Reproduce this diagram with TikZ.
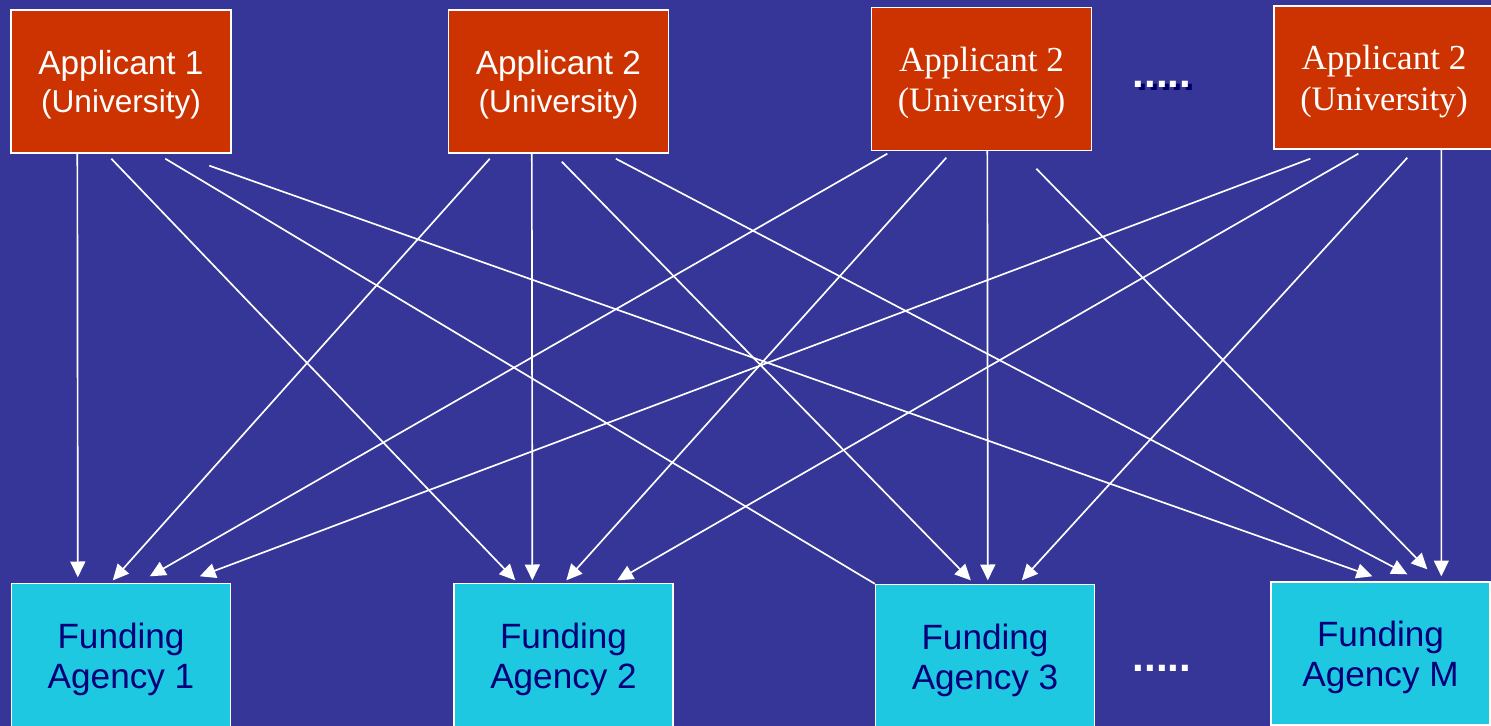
\documentclass[tikz,border=0pt]{standalone}
\usepackage{fontspec}
\setmainfont{Liberation Sans}
\newfontfamily\timesf{Liberation Serif}
\usetikzlibrary{arrows.meta,calc}
\definecolor{bgblue}{RGB}{54,54,152}
\definecolor{boxred}{RGB}{204,51,0}
\definecolor{boxcyan}{RGB}{30,200,224}
\definecolor{navytext}{RGB}{0,0,120}
\definecolor{shadownavy}{RGB}{0,0,100}
\tikzset{
  appbox/.style={draw=white, line width=0.8pt, fill=boxred, minimum width=4.4cm, minimum height=2.86cm, inner sep=0pt},
  fundbox/.style={draw=white, line width=0.8pt, fill=boxcyan, minimum width=4.38cm, minimum height=2.86cm, inner sep=0pt},
  toptxt/.style={text=white, align=center, inner sep=0pt, font=\fontsize{19}{21.5}\selectfont},
  toptxtserif/.style={text=white, align=center, inner sep=0pt, font=\timesf\fontsize{20}{23.2}\selectfont},
  bottxt/.style={text=navytext, align=center, inner sep=0pt, font=\fontsize{20}{22.7}\selectfont},
  link/.style={draw=white, line width=0.95pt, -{Triangle[length=9pt,width=8.5pt]}},
  plainlink/.style={draw=white, line width=0.95pt},
  dots/.style={inner sep=0pt, anchor=base, font=\bfseries\fontsize{24}{24}\selectfont}
}
\begin{document}
\begin{tikzpicture}[x=0.02cm,y=-0.02cm]
\useasboundingbox (0,0) rectangle (1491,726);
\fill[bgblue] (0,0) rectangle (1491,726);
% boxes
\node[appbox] (a1) at (121,81.5) {};
\node[appbox] (a2) at (558.5,81.5) {};
\node[appbox] (a3) at (981.5,79) {};
\node[appbox] (a4) at (1384,77.5) {};
\node[fundbox] (f1) at (121,655) {};
\node[fundbox] (f2) at (563.5,655) {};
\node[fundbox] (f3) at (985,656) {};
\node[fundbox] (fm) at (1380.5,653.5) {};
% texts
\node[toptxt] (a1t) at ($(a1.center)+(0,3)$) {Applicant 1\\\fontsize{18}{21.5}\selectfont (University)};
\node[toptxt] (a2t) at ($(a2.center)+(0,3)$) {Applicant 2\\\fontsize{18}{21.5}\selectfont (University)};
\node[toptxtserif] (a3t) at ($(a3.center)+(0,4)$) {Applicant 2\\\fontsize{19.5}{23.2}\selectfont (University)};
\node[toptxtserif] (a4t) at ($(a4.center)+(0,4)$) {Applicant 2\\\fontsize{19.5}{23.2}\selectfont (University)};
\node[bottxt] (f1t) at ($(f1.center)+(0,4)$) {Funding\\Agency 1};
\node[bottxt] (f2t) at ($(f2.center)+(0,4)$) {Funding\\Agency 2};
\node[bottxt] (f3t) at ($(f3.center)+(0,4)$) {Funding\\Agency 3};
\node[bottxt] (fmt) at ($(fm.center)+(0,4)$) {Funding\\Agency M};
% ellipses
\node[dots, text=shadownavy] (dtopsh) at (1166,91) {.....};
\node[dots, text=white] (dtop) at (1162,88) {.....};
\node[dots, text=white] (dbot) at (1162,671) {.....};
% connectors from Applicant 1
\draw[link] ($(a1.south west)+(67,0)$) -- ($(f1.north west)+(67,-5.5)$);
\draw[link] ($(a1.south west)+(101,5)$) -- ($(f2.north west)+(62,-2.5)$);
\draw[plainlink] ($(a1.south west)+(155,5)$) -- (f3.north west);
\draw[link] ($(a1.south west)+(199,12)$) -- ($(fm.north west)+(102,-5)$);
% from Applicant 2
\draw[link] ($(a2.south west)+(42,5)$) -- ($(f1.north west)+(102,-2.5)$);
\draw[link] ($(a2.south west)+(84,0)$) -- ($(f2.north west)+(79,-2.5)$);
\draw[link] ($(a2.south west)+(114,8)$) -- ($(f3.north west)+(96,-3.5)$);
\draw[link] ($(a2.south west)+(168,5)$) -- ($(fm.north west)+(137,-7)$);
% from Applicant 2 (third box)
\draw[link] ($(a3.south west)+(16.5,2.5)$) -- ($(f1.north west)+(139,-6.5)$);
\draw[link] ($(a3.south west)+(75.5,6.5)$) -- ($(f2.north west)+(113,-2.5)$);
\draw[link] ($(a3.south west)+(116.5,0)$) -- ($(f3.north west)+(113,-3.5)$);
\draw[link] ($(a3.south west)+(165.5,17.5)$) -- ($(fm.north west)+(157,-12)$);
% from Applicant 2 (fourth box)
\draw[link] ($(a4.south west)+(37,9)$) -- ($(f1.north west)+(189,-6.5)$);
\draw[link] ($(a4.south west)+(85,4)$) -- ($(f2.north west)+(164,-2.5)$);
\draw[link] ($(a4.south west)+(134,8)$) -- ($(f3.north west)+(147,-3.5)$);
\draw[link] ($(a4.south west)+(168,0)$) -- ($(fm.north west)+(171,-5)$);
\end{tikzpicture}
\end{document}
